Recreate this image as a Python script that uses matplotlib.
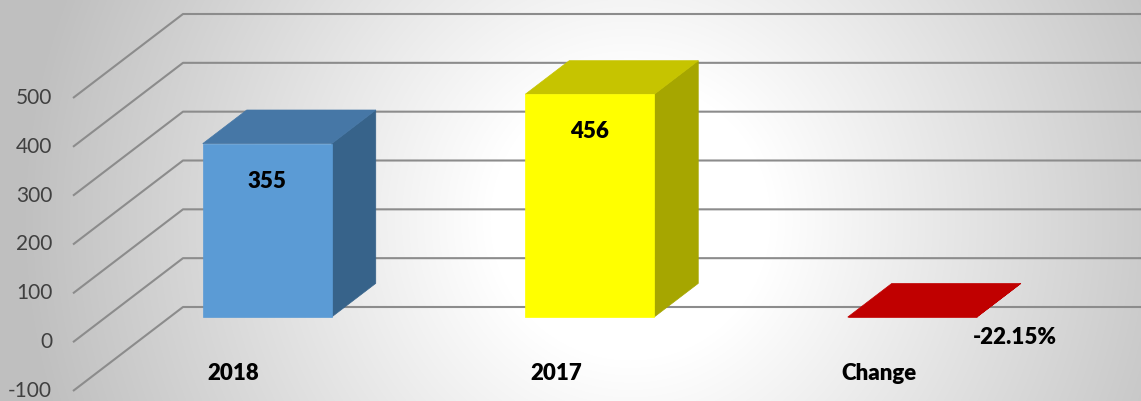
import numpy as np
import matplotlib
matplotlib.use("Agg")
import matplotlib.pyplot as plt
from matplotlib.patches import Polygon

# ---- data ----
categories = ["2018", "2017", "Change"]
values = [355, 456, -0.2215]
value_labels = ["355", "456", "-22.15%"]
y_ticks = [-100, 0, 100, 200, 300, 400, 500]

# ---- styles ----
front_colors = ["#5B9BD5", "#FFFF00", "#C00000"]
top_colors = ["#4677A6", "#C6C400", "#C00000"]
side_colors = ["#37638A", "#A6A600", "#C00000"]
grid_color = "#8C8C8C"
FONT = ["Lato", "DejaVu Sans"]
BOLD = 800

W, H = 1141, 401
fig = plt.figure(figsize=(W / 100, H / 100), dpi=100)

# background radial gradient
bg = fig.add_axes([0, 0, 1, 1], zorder=0)
yy, xx = np.mgrid[0:H, 0:W]
r = np.sqrt((xx - 630.0) ** 2 + ((yy - 220.0) * 1.0) ** 2)
f = np.clip((r - 140) / 470.0, 0, 1)
v = 1 - 0.25 * f
bg.imshow(np.dstack([v, v, v]), extent=[0, W, H, 0], aspect="auto", interpolation="bilinear")
bg.set_xlim(0, W)
bg.set_ylim(H, 0)
bg.axis("off")

# front-plane axes
ax = fig.add_axes([73 / W, 10 / H, 967.5 / W, 293 / H], zorder=1)
ax.set_xlim(-0.5, len(categories) - 0.5)
ax.set_ylim(min(y_ticks), max(y_ticks))
ax.axis("off")
ax.patch.set_alpha(0)

# depth vector (full depth) expressed in data units via the axes transform
DX, DY = 110.0, 84.0
p0 = ax.transData.transform((0, 0))
d = ax.transData.inverted().transform(p0 + np.array([DX, DY]))
ddx, ddy = d[0], d[1]


def P(x, val, t):
    return (x + t * ddx, val + t * ddy)


x0, x1 = ax.get_xlim()
# gridlines: diagonal on side wall + horizontal on back wall
for tv in y_ticks:
    pts = [P(x0, tv, 0), P(x0, tv, 1), P(x1, tv, 1)]
    ax.plot([p[0] for p in pts], [p[1] for p in pts], color=grid_color,
            lw=1.5, clip_on=False, zorder=1, solid_capstyle="butt")
    ax.annotate(str(tv), xy=(x0, tv), xytext=(-15, 0), textcoords="offset points",
                ha="right", va="center", fontsize=15, color="#404040",
                family=FONT, annotation_clip=False)

bw = 0.2
t0, t1 = 0.3, 0.7
for i, (cat, val) in enumerate(zip(categories, values)):
    xl, xr = i - bw, i + bw
    side = [P(xr, 0, t0), P(xr, val, t0), P(xr, val, t1), P(xr, 0, t1)]
    top = [P(xl, val, t0), P(xr, val, t0), P(xr, val, t1), P(xl, val, t1)]
    front = [P(xl, 0, t0), P(xr, 0, t0), P(xr, val, t0), P(xl, val, t0)]
    for verts, col in ((side, side_colors[i]), (top, top_colors[i]), (front, front_colors[i])):
        ax.add_patch(Polygon(verts, closed=True, facecolor=col, edgecolor=col,
                             lw=0.5, clip_on=False, zorder=3))
    # category label
    ax.annotate(cat, xy=(i, min(y_ticks)), xytext=(-0.5, 12.5), textcoords="offset points",
                ha="center", va="center", fontsize=16, fontweight=BOLD,
                color="black", family=FONT, annotation_clip=False)

# value labels
for i, (val, lab) in enumerate(zip(values, value_labels)):
    if val > 50:
        ax.annotate(lab, xy=P(i, val, t0), xytext=(0, -27), textcoords="offset points",
                    ha="center", va="center", fontsize=16, fontweight=BOLD,
                    color="black", family=FONT, annotation_clip=False, zorder=5)
    else:
        ax.annotate(lab, xy=P(i, val, t0), xytext=(74, -14.5), textcoords="offset points",
                    ha="center", va="center", fontsize=16, fontweight=BOLD,
                    color="black", family=FONT, annotation_clip=False, zorder=5)

fig.savefig("out.png", dpi=100)
